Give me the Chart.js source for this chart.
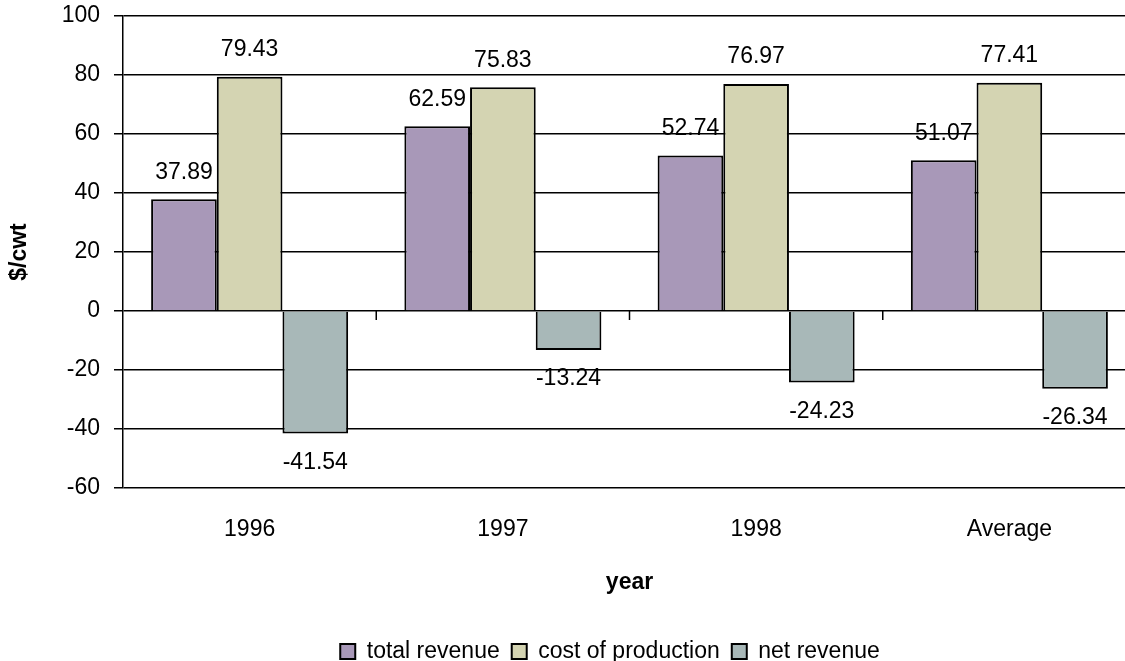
<!DOCTYPE html>
<html>
<head>
<meta charset="utf-8">
<script src="https://cdn.jsdelivr.net/npm/chart.js@4/dist/chart.umd.min.js"></script>
<style>
  html, body { margin: 0; padding: 0; background: #fff; overflow: hidden; }
  #wrap { width: 1140px; height: 661px; }
</style>
</head>
<body>
<div id="wrap"><canvas id="costChart" width="1140" height="661"></canvas></div>
<script>
const years = ['1996', '1997', '1998', 'Average'];
const totalRevenue = [37.89, 62.59, 52.74, 51.07];
const costOfProduction = [79.43, 75.83, 76.97, 77.41];
const netRevenue = [-41.54, -13.24, -24.23, -26.34];
const yTicks = [100, 80, 60, 40, 20, 0, -20, -40, -60];

const FONT = '"Liberation Sans", Arial, sans-serif';
const SIZE = 23;
Chart.defaults.font.family = FONT;
Chart.defaults.font.size = SIZE;
Chart.defaults.color = '#000';

// value labels above / below each bar
const valueLabels = {
    id: 'valueLabels',
    afterDatasetsDraw(chart) {
        const ctx = chart.ctx;
        ctx.save();
        ctx.font = SIZE + 'px ' + FONT;
        ctx.fillStyle = '#000';
        ctx.textAlign = 'center';
        ctx.textBaseline = 'middle';
        chart.data.datasets.forEach((ds, i) => {
            chart.getDatasetMeta(i).data.forEach((bar, j) => {
                const v = ds.data[j];
                const y = v >= 0 ? bar.y - 27 : bar.y + 29;
                ctx.fillText(v.toFixed(2), bar.x, y);
            });
        });
        ctx.restore();
    }
};

// small category tick marks hanging off the zero line
const zeroTicks = {
    id: 'zeroTicks',
    afterDatasetsDraw(chart) {
        const x = chart.scales.x, y = chart.scales.y;
        const y0 = y.getPixelForValue(0);
        const ctx = chart.ctx;
        ctx.save();
        ctx.strokeStyle = '#000';
        ctx.lineWidth = 1.5;
        for (let i = 1; i < years.length; i++) {
            const xb = (x.getPixelForValue(i - 1) + x.getPixelForValue(i)) / 2;
            ctx.beginPath();
            ctx.moveTo(xb, y0);
            ctx.lineTo(xb, y0 + 9);
            ctx.stroke();
        }
        ctx.restore();
    }
};

// legend sits a bit right of the canvas centre in the original
const legendShift = {
    id: 'legendShift',
    afterLayout(chart) {
        chart.legend.left += 42;
        chart.legend.right += 42;
    }
};

new Chart(document.getElementById('costChart'), {
    type: 'bar',
    data: {
        labels: years,
        datasets: [
            { label: 'total revenue', data: totalRevenue, backgroundColor: '#A898B8' },
            { label: 'cost of production', data: costOfProduction, backgroundColor: '#D4D4B2' },
            { label: 'net revenue', data: netRevenue, backgroundColor: '#A8B8B8' }
        ].map(d => Object.assign(d, {
            borderColor: '#000',
            borderWidth: 2,
            categoryPercentage: 0.778,
            barPercentage: 1.0
        }))
    },
    options: {
        responsive: false,
        animation: false,
        layout: { padding: { top: 16, right: 4, left: 0, bottom: -12 } },
        plugins: {
            legend: {
                position: 'bottom',
                labels: {
                    boxWidth: 15,
                    boxHeight: 15,
                    padding: 12,
                    color: '#000',
                    font: { size: SIZE }
                }
            },
            tooltip: { enabled: false }
        },
        scales: {
            x: {
                grid: { display: false },
                border: { display: false },
                ticks: { padding: 20, font: { size: SIZE } },
                title: { display: true, text: 'year', font: { size: SIZE, weight: 'bold' }, padding: { top: 4, bottom: 32 } },
                afterFit(scale) { scale.height = 140; }
            },
            y: {
                min: -60,
                max: 100,
                afterBuildTicks(scale) { scale.ticks = yTicks.map(v => ({ value: v })); },
                grid: { color: '#000', lineWidth: 1.5, tickLength: 9, tickColor: '#000' },
                border: { color: '#000', width: 1.5 },
                ticks: { padding: 14, font: { size: SIZE } },
                title: { display: true, text: '$/cwt', font: { size: SIZE, weight: 'bold' }, padding: { top: 6, bottom: 4 } },
                afterFit(scale) {
                    scale.width = 123;
                    scale.paddingTop = 0;
                    scale.paddingBottom = 0;
                }
            }
        }
    },
    plugins: [valueLabels, zeroTicks, legendShift]
});
</script>
</body>
</html>
